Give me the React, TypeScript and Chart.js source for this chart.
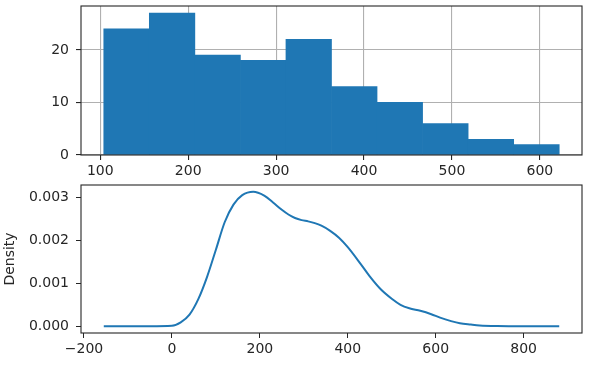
import React, { useEffect, useRef } from "react";
import { Chart, registerables } from "chart.js";
Chart.register(...registerables);

// Histogram (top panel)
const binEdges = [104, 155.8, 207.6, 259.4, 311.2, 363, 414.8, 466.6, 518.4, 570.2, 622];
const binCounts = [24, 27, 19, 18, 22, 13, 10, 6, 3, 2];
const histXTicks = [100, 200, 300, 400, 500, 600];
const histYTicks = [0, 10, 20];

// Density curve (bottom panel)
const kdeX = [-155, -100, -50, 0, 20, 40, 60, 80, 100, 120, 140, 160, 185, 210, 230, 250, 265, 280, 295, 310, 325, 340, 360, 380, 400, 430, 450, 475, 500, 520, 540, 565, 590, 610, 635, 655, 680, 700, 740, 800, 881];
const kdeY = [0, 0, 0, 0.00001, 0.00009, 0.00027, 0.00063, 0.00115, 0.00178, 0.00242, 0.00283, 0.00305, 0.00313, 0.00304, 0.00288, 0.00271, 0.0026, 0.00252, 0.00247, 0.00244, 0.0024, 0.00234, 0.00222, 0.00206, 0.00184, 0.00144, 0.00116, 0.00086, 0.00064, 0.0005, 0.00042, 0.00036, 0.00028, 0.0002, 0.00012, 0.00007, 0.00004, 0.00002, 0.000005, 0, 0];
const kdeXTicks = [-200, 0, 200, 400, 600, 800];
const kdeYTicks = [0, 0.001, 0.002, 0.003];
const kdeYLabel = "Density";

const BLUE = "#1f77b4";
const DARK = "#262626";
const FONT = { family: "'DejaVu Sans', sans-serif", size: 14 };

const framePlugin = {
  id: "frame",
  afterDraw(chart: any) {
    const { ctx, chartArea } = chart;
    const { left, top, right, bottom } = chartArea;
    ctx.save();
    ctx.strokeStyle = DARK;
    ctx.lineWidth = 1.1;
    ctx.strokeRect(left, top, right - left, bottom - top);
    ctx.restore();
  },
};

const fixedTicks = (vals: number[]) => (scale: any) => {
  scale.ticks = vals.map((v) => ({ value: v }));
};

const fitW = (w: number) => (s: any) => {
  s.width = w;
  s.paddingTop = 0;
  s.paddingBottom = 0;
  s.paddingLeft = 0;
  s.paddingRight = 0;
};
const fitH = (h: number) => (s: any) => {
  s.height = h;
  s.paddingTop = 0;
  s.paddingBottom = 0;
  s.paddingLeft = 0;
  s.paddingRight = 0;
};

function useChart(ref: React.RefObject<HTMLCanvasElement>, makeConfig: () => any) {
  useEffect(() => {
    if (!ref.current) return;
    const chart = new Chart(ref.current, makeConfig());
    return () => chart.destroy();
  }, []);
}

export default function App() {
  const topRef = useRef<HTMLCanvasElement>(null);
  const botRef = useRef<HTMLCanvasElement>(null);

  useEffect(() => {
    document.body.style.margin = "0";
  }, []);

  useChart(topRef, () => {
    const centers = binCounts.map((_, i) => (binEdges[i] + binEdges[i + 1]) / 2);
    return {
      type: "bar",
      data: {
        datasets: [
          {
            data: centers.map((c, i) => ({ x: c, y: binCounts[i] })),
            backgroundColor: BLUE,
            borderWidth: 0,
            barPercentage: 1,
            categoryPercentage: 1,
            grouped: false,
          },
        ],
      },
      options: {
        responsive: false,
        animation: false,
        devicePixelRatio: 1,
        layout: { padding: { top: 6, right: 10, left: 0, bottom: 0 } },
        plugins: { legend: { display: false }, tooltip: { enabled: false } },
        scales: {
          x: {
            type: "linear",
            min: 78.1,
            max: 647.9,
            offset: false,
            z: 1,
            afterBuildTicks: fixedTicks(histXTicks),
            afterFit: fitH(25),
            grid: { offset: false, color: "#b0b0b0", lineWidth: 1.1, tickColor: DARK, tickLength: 5 },
            border: { display: false },
            ticks: { color: DARK, font: FONT, padding: 3, maxRotation: 0, callback: (v: number) => String(v) },
          },
          y: {
            type: "linear",
            min: 0,
            max: 28.35,
            z: 1,
            afterBuildTicks: fixedTicks(histYTicks),
            afterFit: fitW(81),
            grid: { color: "#b0b0b0", lineWidth: 1.1, tickColor: DARK, tickLength: 5 },
            border: { display: false },
            ticks: { color: DARK, font: FONT, padding: 7, callback: (v: number) => String(v) },
          },
        },
      },
      plugins: [framePlugin],
    };
  });

  useChart(botRef, () => ({
    type: "line",
    data: {
      datasets: [
        {
          data: kdeX.map((x, i) => ({ x, y: kdeY[i] })),
          borderColor: BLUE,
          borderWidth: 2,
          pointRadius: 0,
          fill: false,
          cubicInterpolationMode: "monotone",
        },
      ],
    },
    options: {
      responsive: false,
      animation: false,
      devicePixelRatio: 1,
      layout: { padding: { top: 5, right: 10, left: 0, bottom: 0 } },
      plugins: { legend: { display: false }, tooltip: { enabled: false } },
      scales: {
        x: {
          type: "linear",
          min: -206.8,
          max: 932.8,
          afterBuildTicks: fixedTicks(kdeXTicks),
          afterFit: fitH(36),
          grid: { drawOnChartArea: false, tickColor: DARK, tickLength: 5 },
          border: { display: false },
          ticks: {
            color: DARK,
            font: FONT,
            padding: 3,
            maxRotation: 0,
            callback: (v: number) => (v < 0 ? "\u2212" + String(-v) : String(v)),
          },
        },
        y: {
          type: "linear",
          min: -0.000157,
          max: 0.003287,
          afterBuildTicks: fixedTicks(kdeYTicks),
          afterFit: fitW(81),
          grid: { drawOnChartArea: false, tickColor: DARK, tickLength: 5 },
          border: { display: false },
          title: { display: true, text: kdeYLabel, color: DARK, font: FONT, padding: { top: 2, bottom: 0 } },
          ticks: { color: DARK, font: FONT, padding: 7, callback: (v: number) => v.toFixed(3) },
        },
      },
    },
    plugins: [framePlugin],
  }));

  return (
    <div style={{ position: "relative", width: 592, height: 369, background: "#fff" }}>
      <canvas ref={topRef} width={592} height={180} style={{ position: "absolute", left: 0, top: 0 }} />
      <canvas ref={botRef} width={592} height={189} style={{ position: "absolute", left: 0, top: 180 }} />
    </div>
  );
}
